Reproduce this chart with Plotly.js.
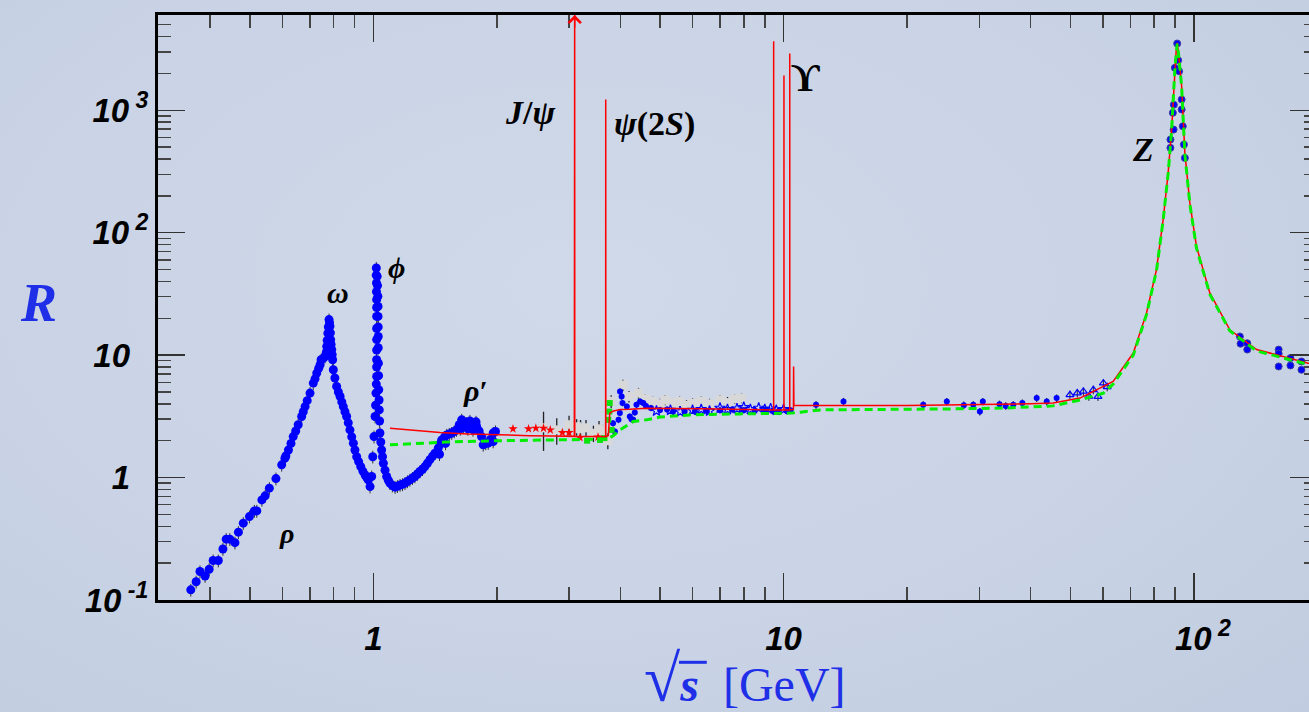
<!DOCTYPE html>
<html><head><meta charset="utf-8">
<script src="https://cdn.plot.ly/plotly-3.0.1.min.js"></script>
<style>
html,body{margin:0;padding:0;overflow:hidden;width:1309px;height:712px;}
body{background: radial-gradient(ellipse at 45% 40%, #d0d9e9 0%, #c9d3e5 60%, #c1cce0 100%);}
#chart{width:1320px;height:712px;}
</style></head><body><div id="chart"></div>
<script>
// ---------- data ----------
// low-energy hadronic data (blue dots), sqrt(s) in GeV and R
const lowE_x = [0.359,0.370,0.378,0.389,0.398,0.407,0.419,0.430,0.438,0.447,0.460,0.469,0.482,0.499,0.513,0.520,0.535,0.545,0.558,0.579,0.598,0.609,0.612,0.621,0.630,0.638,0.647,0.656,0.669,0.675,0.682,0.690,0.701,0.714,0.721,0.728,0.736,0.742,0.746,0.755,0.763,0.768,0.770,0.772,0.775,0.777,0.780,0.782,0.784,0.786,0.787,0.789,0.792,0.794,0.796,0.799,0.806,0.814,0.822,0.830,0.838,0.845,0.853,0.861,0.869,0.877,0.886,0.894,0.902,0.911,0.921,0.932,0.943,0.955,0.964,0.972,0.982,0.991,0.997,1.004,1.010,1.013,1.015,1.017,1.019,1.019,1.019,1.019,1.019,1.019,1.019,1.019,1.019,1.018,1.018,1.017,1.017,1.022,1.024,1.026,1.027,1.027,1.028,1.028,1.028,1.029,1.030,1.031,1.033,1.034,1.036,1.038,1.043,1.048,1.053,1.058,1.068,1.078,1.088,1.098,1.113,1.130,1.145,1.162,1.178,1.195,1.211,1.228,1.246,1.263,1.281,1.299,1.318,1.336,1.355,1.374,1.394,1.413,1.440,1.450,1.455,1.468,1.490,1.500,1.510,1.532,1.553,1.575,1.596,1.620,1.630,1.642,1.660,1.665,1.688,1.700,1.712,1.720,1.737,1.750,1.761,1.780,1.786,1.811,1.836,1.853,1.880,1.906,1.930,1.960,1.960,1.985];
const lowE_R = [0.121,0.141,0.171,0.157,0.178,0.210,0.210,0.261,0.314,0.314,0.294,0.358,0.424,0.480,0.534,0.534,0.657,0.709,0.819,0.981,1.27,1.44,1.50,1.68,1.90,2.16,2.40,2.70,3.15,3.45,3.80,4.25,4.90,5.91,6.4,7.13,7.8,8.34,9.16,9.4,9.75,10.5,11.8,13.2,15.1,17.0,19.5,18.4,17.2,15.2,13.4,12.2,11.1,10.1,9.16,7.6,6.5,5.55,5.0,4.59,4.15,3.80,3.45,3.15,2.80,2.45,2.15,1.91,1.68,1.48,1.35,1.23,1.13,1.05,1.0,0.957,0.844,1.02,1.48,2.16,3.15,3.9,4.9,5.8,6.7,8.0,9.16,11.0,13.4,16.5,20.7,24.5,28.4,33.0,38.8,45.0,51.5,44.0,37.0,30.2,25.0,20.7,17.0,14.2,11.5,8.6,6.8,5.21,4.3,3.57,2.9,2.31,1.95,1.68,1.48,1.31,1.15,1.02,0.95,0.90,0.86,0.835,0.85,0.87,0.88,0.90,0.93,0.957,0.99,1.02,1.07,1.12,1.17,1.23,1.31,1.40,1.49,1.58,1.74,1.55,1.88,2.03,2.13,1.9,2.23,2.27,2.31,2.38,2.45,2.70,2.5,2.96,2.6,2.85,2.78,2.5,2.72,2.9,2.69,2.45,2.65,2.85,2.61,2.40,2.16,1.85,1.90,1.91,2.05,2.31,1.97,2.38];

// charm / bottom region data (blue)
const midE_x = [3.84,3.88,3.96,3.99,3.994,4.03,4.05,4.15,4.22,4.26,4.30,4.34,4.38,4.47,4.55,4.62,4.75,5.0,5.2,5.38,5.74,6.08,6.5,7.0,7.5,8.0,8.5,9.0,9.4,9.7,10.2,10.4];
const midE_R = [2.78,2.38,2.96,3.36,5.05,4.59,4.06,3.8,3.15,3.0,2.96,3.4,3.93,4.18,4.06,3.85,3.7,3.57,3.6,3.46,3.46,3.46,3.5,3.55,3.6,3.55,3.5,3.55,3.5,3.45,3.5,3.55];
const star_x = [4.9,5.3,5.6,6.0,6.3,6.6,7.0,7.3,7.7,8.0,8.3,8.7,9.0,9.3,9.6,10.0];
const star_R = [3.5,3.55,3.45,3.55,3.6,3.5,3.7,3.6,3.65,3.75,3.6,3.7,3.6,3.65,3.55,3.6];

// PETRA / TRISTAN region (blue)
const highE_x = [12.0,14.0,21.9,25.0,27.5,29.0,30.6,30.1,33.6,34.8,36.3,38.2,41.4,43.8,46.3];
const highE_R = [3.93,4.18,3.93,4.18,3.9,3.93,4.18,3.46,3.97,3.85,3.93,4.06,4.46,4.18,4.46];
const tri_x = [49.9,52.0,53.8,55.5,56.9,58.4,60.2,61.5];
const tri_R = [4.74,4.9,5.05,4.6,5.21,4.59,5.9,5.5];

// Z region and above (blue)
const zE_x = [91.1,89.9,91.6,92.1,89.4,88.9,89.3,87.7,87.7,93.4,93.4,94.0,94.6,95.1,129.5,130,135,135,161,161,161,172,172,183,183];
const zE_R = [3510,2220,2560,2080,1110,953,695,576,493,1224,1014,740,525,408,14.2,12.4,12.5,11.1,11.1,10.3,8.08,9.46,8.23,8.88,7.59];

// red stars (2-3.5 GeV)
const redStar_x = [2.19,2.39,2.49,2.60,2.70,2.89,3.0,3.19,3.53];
const redStar_R = [2.5,2.5,2.53,2.53,2.45,2.33,2.33,2.12,2.14];

// grey data with black error bars
const grey_x = [2.6,2.8,3.0,3.13,3.2,3.3,3.44,3.55,3.62,3.73,3.8,4.06,4.2,4.43,4.6,4.8,5.0,5.14,5.35,5.58,5.8,6.0,6.3,6.6,7.0,7.3,7.6,7.9];
const grey_R = [2.55,2.45,2.7,2.6,2.5,2.55,2.3,2.5,2.4,2.0,4.2,5.7,4.6,4.9,4.4,4.18,4.0,4.3,4.1,4.18,3.9,4.06,4.2,4.0,4.3,4.1,4.4,4.45];
const grey_err = [0.9,0.6,0.5,0.4,0.45,0.4,0.35,0.4,0.3,0.3,0.5,0.6,0.5,0.5,0.4,0.4,0.4,0.4,0.35,0.4,0.4,0.4,0.4,0.4,0.4,0.45,0.4,0.4];

// green points near the charm threshold
const greenPt_x = [3.32,3.57,3.66,3.74,3.76,3.77,3.81];
const greenPt_R = [2.0,2.03,2.1,2.96,3.46,4.06,2.45];

// QCD prediction with resonances (red line)
const qcd_x = [1.098,1.3,1.454,1.7,2.0,2.4,2.74,3.09,3.0965,3.098,3.4,3.684,3.686,3.688,3.74,3.77,3.85,4.0,4.22,4.63,6.25,9.0,9.459,9.460,9.461,10.022,10.023,10.024,10.354,10.355,10.356,10.57,10.58,10.60,20,30,40,45.4,52.8,63.6,71.2,76.7,81.1,84.2,86.6,88.3,89.9,90.6,91.1,91.8,93.4,95.1,97.8,101.5,109.4,122.4,142.3,190,200];
const qcd_R = [2.53,2.42,2.33,2.27,2.23,2.2,2.19,2.17,8000,2.17,2.16,2.15,1224,2.15,2.2,3.36,3.5,3.6,3.62,3.69,3.64,3.57,3.57,3664,3.57,3.57,1922,3.57,3.57,2910,3.57,3.6,8.08,3.87,3.88,3.92,4.0,4.06,4.46,6.1,10.4,22.1,49.9,128,308,695,2153,3100,3556,2900,1571,449,175,77.3,32.2,16.1,11.1,8.6,8.4];

// naive quark-parton model (green dashed)
const naive_x = [1.098,1.5,2.0,3.0,3.64,3.72,3.85,3.99,4.3,4.63,5.0,5.39,5.9,7.8,10.4,11.0,12.3,25.9,35,45.4,52.8,60.2,63.6,71.2,76.7,81.1,84.2,86.6,88.3,89.9,90.6,91.1,91.8,93.4,95.1,97.8,101.5,109.4,122.4,142.3,190,200];
const naive_R = [1.85,1.95,2.0,2.03,2.03,2.06,2.2,2.45,2.87,2.96,3.12,3.19,3.25,3.31,3.36,3.42,3.57,3.64,3.7,3.85,4.3,4.89,5.8,10.0,21.5,49,127,305,690,2150,3050,3500,2880,1560,440,172,75,31.5,15.8,10.8,8.4,8.2];

// resonance labels
const label_text = ['<i>J</i>/<i>&#968;</i>','<i>&#968;</i>(2<i>S</i>)','&#978;','<i>Z</i>','<i>&#969;</i>','<i>&#981;</i>','<i>&#961;</i>&#8242;','<i>&#961;</i>'];
const label_x = [2.41,4.86,11.33,75.2,0.82,1.142,1.77,0.616];
const label_R = [958,779,1851,477,32.2,51.8,5.11,0.347];
const label_size = [34,34,40,34,30,30,30,28];

const xTickVals = [1,10,100];
const xTickText = ['1','10','\u00a0\u00a010<sup>\u00a02</sup>'];
const yTickVals = [0.1,1,10,100,1000];
const yTickText = ['10<sup>\u00a0-1</sup>','1\u00a0\u00a0','10\u00a0\u00a0','10<sup>\u00a02</sup>','10<sup>\u00a03</sup>'];

// ---------- chart ----------
const BLUE = '#0000ff';
const traces = [
  {x: grey_x, y: grey_R, mode:'markers', type:'scatter',
   marker:{symbol:'square', size:9, color:'#d8d8d8'},
   error_y:{type:'data', array:grey_err, color:'#222', thickness:1.3, width:0}},
  {x: lowE_x, y: lowE_R, mode:'markers', type:'scatter',
   marker:{symbol:'circle', size:9, color:BLUE},
   error_y:{type:'percent', value:12, color:'#333', thickness:1, width:0}},
  {x: midE_x, y: midE_R, mode:'markers', type:'scatter',
   marker:{symbol:'circle', size:6, color:BLUE},
   error_y:{type:'percent', value:6, color:'#222', thickness:1, width:0}},
  {x: star_x, y: star_R, mode:'markers', type:'scatter',
   marker:{symbol:'star-open', size:8, color:BLUE, line:{width:1.2, color:BLUE}}},
  {x: highE_x, y: highE_R, mode:'markers', type:'scatter',
   marker:{symbol:'circle', size:6, color:BLUE},
   error_y:{type:'percent', value:7, color:'#222', thickness:1.2, width:0}},
  {x: tri_x, y: tri_R, mode:'markers', type:'scatter',
   marker:{symbol:'triangle-up-open', size:7, color:BLUE, line:{width:1.2, color:BLUE}},
   error_y:{type:'percent', value:8, color:'#222', thickness:1, width:0}},
  {x: zE_x, y: zE_R, mode:'markers', type:'scatter',
   marker:{symbol:'circle', size:7, color:BLUE, line:{width:1, color:'#4040a0'}}},
  {x: redStar_x, y: redStar_R, mode:'markers', type:'scatter',
   marker:{symbol:'star', size:7, color:'#ff0000'}},
  {x: greenPt_x, y: greenPt_R, mode:'markers', type:'scatter',
   marker:{symbol:'square', size:6, color:'#10e010'}},
  {x: qcd_x, y: qcd_R, mode:'lines', type:'scatter',
   line:{color:'#ff0000', width:1.5}},
  {x: naive_x, y: naive_R, mode:'lines', type:'scatter',
   line:{color:'#00ee00', width:3, dash:'8px,5px'}}
];

const annotations = label_text.map((t,i)=>({
  x: Math.log10(label_x[i]), y: Math.log10(label_R[i]), xref:'x', yref:'y',
  text: '<b>'+t+'</b>', showarrow:false,
  font:{family:'Liberation Serif, DejaVu Serif, serif', size:label_size[i], color:'#000'}
}));
// arrow head of the J/psi line (goes off scale)
annotations.push({x: Math.log10(3.097), y: 3.778, xref:'x', yref:'y', text:'',
  showarrow:true, arrowhead:4, arrowsize:1.6, arrowwidth:1.5, arrowcolor:'#ff0000', ax:0, ay:14});
// axis titles
annotations.push({x:-0.1035, y:0.508, xref:'paper', yref:'paper', xanchor:'center', yanchor:'middle',
  text:'<b><i>R</i></b>', showarrow:false,
  font:{family:'Liberation Serif, serif', size:54, color:'#1f2fe8'}});
annotations.push({x:0.5065, y:-0.068, xref:'paper', yref:'paper', xanchor:'center', yanchor:'top', showarrow:false,
  text:'<span style="font-size:66px">\u221A</span><b><i>s</i></b>\u00a0\u00a0[GeV]',
  font:{family:'Liberation Serif, serif', size:48, color:'#1f2fe8'}});

const axisCommon = {
  type:'log', showline:true, linecolor:'#000', linewidth:3, mirror:'ticks',
  ticks:'inside', ticklen:27, tickwidth:1.5, tickcolor:'#333',
  showgrid:false, zeroline:false, tickmode:'array',
  tickfont:{family:'Liberation Sans, Arial, sans-serif', size:33, color:'#000', weight:'bold', style:'italic'}
};

const layout = {
  width:1320, height:712,
  margin:{l:158, r:3, t:15, b:112},
  paper_bgcolor:'rgba(0,0,0,0)', plot_bgcolor:'rgba(0,0,0,0)',
  showlegend:false, hovermode:false,
  xaxis: Object.assign({}, axisCommon, {
    range:[-0.5248, 2.3003], tickvals:xTickVals, ticktext:xTickText, ticklabelstandoff:7,
    minor:{tickmode:'array', tickvals:[0.4,0.5,0.6,0.7,0.8,0.9,2,3,4,5,6,7,8,9,20,30,40,50,60,70,80,90],
           ticks:'inside', ticklen:13, tickwidth:1.5, tickcolor:'#444'}
  }),
  yaxis: Object.assign({}, axisCommon, {
    range:[-1, 3.778], tickvals:yTickVals, ticktext:yTickText, ticklabelstandoff:0,
    minor:{tickmode:'array', tickvals:[0.2,0.3,0.4,0.5,0.6,0.7,0.8,0.9,2,3,4,5,6,7,8,9,20,30,40,50,60,70,80,90,200,300,400,500,600,700,800,900,2000,3000,4000,5000],
           ticks:'inside', ticklen:13, tickwidth:1.5, tickcolor:'#444'}
  }),
  shapes: [
    {type:'line', xref:'paper', yref:'paper', x0:0.4495, x1:0.4735, y0:-0.1065, y1:-0.1065,
     line:{color:'#1f2fe8', width:3}}
  ],
  annotations: annotations
};

Plotly.newPlot('chart', traces, layout, {displayModeBar:false, staticPlot:true});
</script></body></html>
